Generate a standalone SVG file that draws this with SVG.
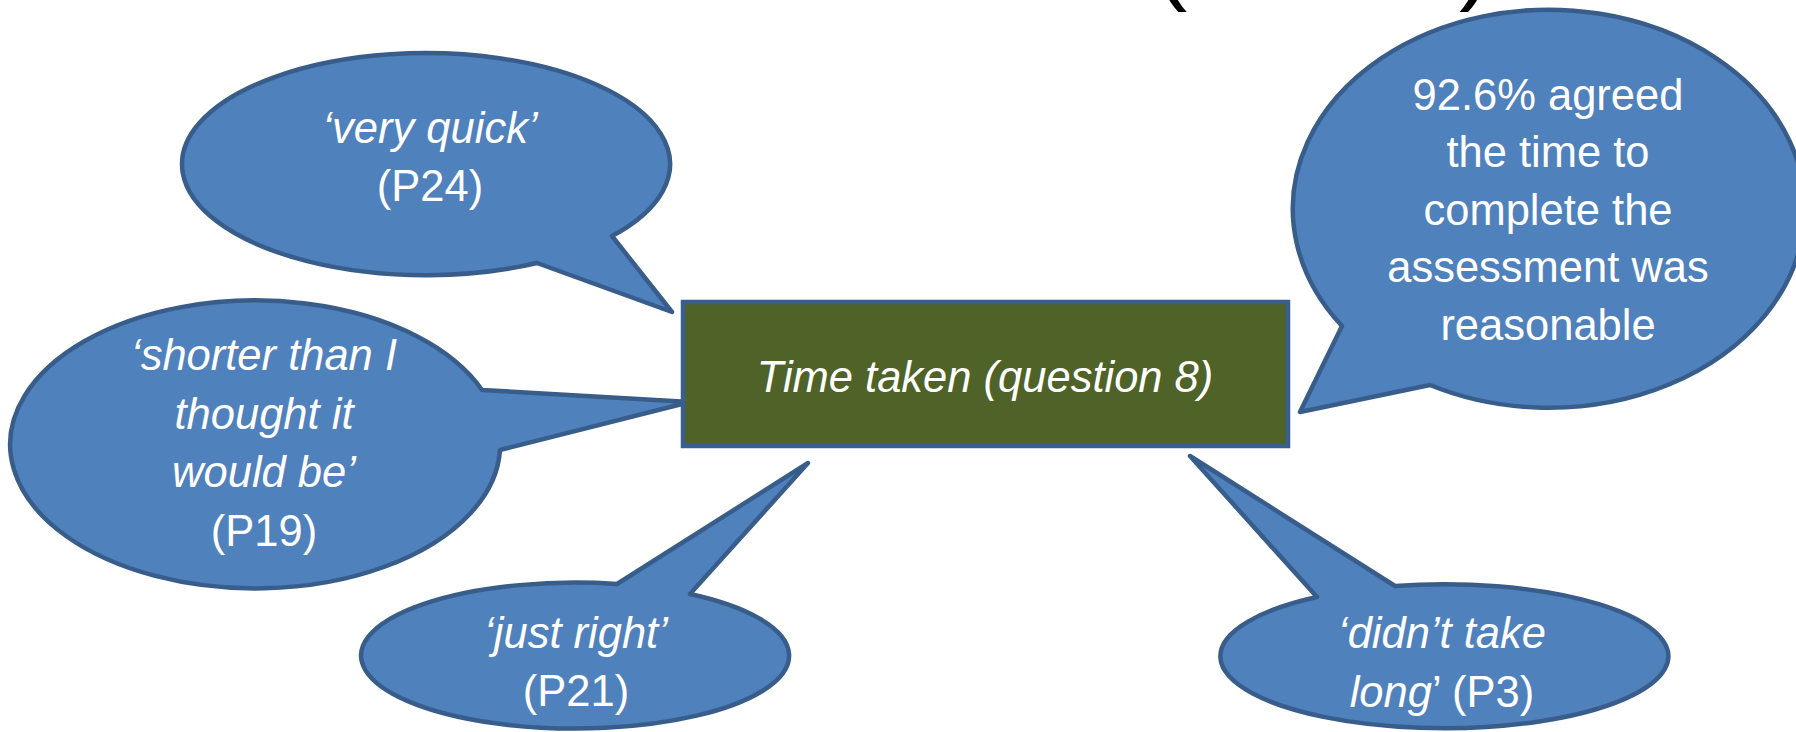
<svg xmlns="http://www.w3.org/2000/svg" width="1796" height="732" viewBox="0 0 1796 732">
<style>
.bub{fill:#4f81bd;stroke:#385d8a;stroke-width:4.5;stroke-linejoin:round}
.box{fill:#4f6228;stroke:#3a5f8e;stroke-width:4.5}
.t{font-family:"Liberation Sans",Arial,sans-serif;font-size:43.5px;fill:#ffffff;text-anchor:middle}
.i{font-style:italic}
.title{font-family:"Liberation Sans",Arial,sans-serif;font-size:100px;fill:#000000}
</style>
<rect width="1796" height="732" fill="#ffffff"/>
<g id="title">
<text class="title" x="1154" y="-9">(</text>
<text class="title" x="1459" y="-9">)</text>
</g>
<g id="connectors"></g>
<g id="bubble-p24">
<path class="bub" d="M612 236 L672 312 L537 263 A244 111 0 1 1 612 236 Z"/>
<text class="t i" x="430" y="143">‘very quick’</text>
<text class="t" x="430" y="201">(P24)</text>
</g>
<g id="bubble-p19">
<path class="bub" d="M482 390 L690 402 L500 450 A245 144 0 1 1 482 390 Z"/>
<text class="t i" x="264" y="370">‘shorter than I</text>
<text class="t i" x="264" y="429">thought it</text>
<text class="t i" x="264" y="487">would be’</text>
<text class="t" x="264" y="546">(P19)</text>
</g>
<g id="bubble-p21">
<path class="bub" d="M617 584 L808 463 L690 594 A214 73 0 1 1 617 584 Z"/>
<text class="t i" x="576" y="648">‘just right’</text>
<text class="t" x="576" y="706">(P21)</text>
</g>
<g id="bubble-p3">
<path class="bub" d="M1317 597 L1190 456 L1395 586 A224 72 0 1 1 1317 597 Z"/>
<text class="t i" x="1442" y="648">‘didn’t take</text>
<text class="t" x="1442" y="707"><tspan class="i">long</tspan>’ (P3)</text>
</g>
<g id="bubble-agreed">
<path class="bub" d="M1430 385 L1300 412 L1342 326 A256 199 0 1 1 1430 385 Z"/>
<text class="t" x="1548" y="110">92.6% agreed</text>
<text class="t" x="1548" y="167">the time to</text>
<text class="t" x="1548" y="225">complete the</text>
<text class="t" x="1548" y="282">assessment was</text>
<text class="t" x="1548" y="340">reasonable</text>
</g>
<g id="central">
<rect class="box" x="683" y="302" width="605" height="144"/>
<text class="t i" x="985" y="392">Time taken (question 8)</text>
</g>
</svg>
